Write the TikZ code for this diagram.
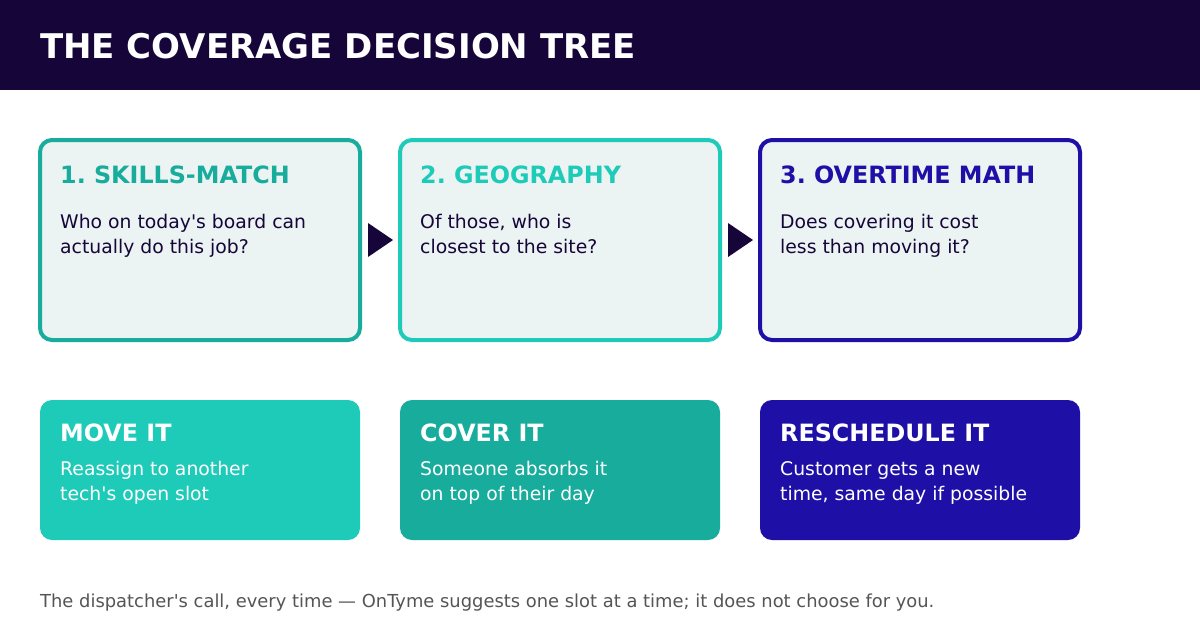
\documentclass[tikz,border=0pt]{standalone}
\usepackage{fontspec}
\setmainfont{DejaVu Sans}
\usetikzlibrary{calc}
\frenchspacing
\definecolor{hdr}{HTML}{160538}
\definecolor{tealdk}{HTML}{17AC9C}
\definecolor{teallt}{HTML}{1ECBB8}
\definecolor{indigo}{HTML}{1E0FA6}
\definecolor{cardfill}{HTML}{EBF3F3}
\definecolor{foot}{HTML}{555555}
\newcommand{\apos}{\textquotesingle}
\tikzset{
  card/.style={draw=#1, line width=4pt, fill=cardfill, rounded corners=12pt, minimum width=320pt, minimum height=200pt, inner sep=0pt},
  result/.style={fill=#1, rounded corners=12pt, minimum width=320pt, minimum height=140pt, inner sep=0pt},
  head/.style={anchor=base west, inner sep=0pt, font=\fontsize{23.8}{29}\selectfont\bfseries, text=#1},
  body/.style={anchor=base west, inner sep=0pt, align=left, font=\fontsize{18.8}{25}\selectfont, text=#1},
  tri/.style={fill=hdr}
}
\begin{document}
\begin{tikzpicture}[x=1pt,y=-1pt]
\useasboundingbox (0,0) rectangle (1200,630);
\fill[white] (0,0) rectangle (1200,630);
\fill[hdr] (0,0) rectangle (1200,90);
\node[anchor=base west, inner sep=0pt, text=white, font=\fontsize{34}{40}\selectfont\bfseries] (title) at (40,58) {THE COVERAGE DECISION TREE};

\node[card=tealdk] (c1) at (200,240) {};
\node[card=teallt] (c2) at (560,240) {};
\node[card=indigo] (c3) at (920,240) {};

\node[head=tealdk] (h1) at (60,183) {1. SKILLS-MATCH};
\node[head=teallt] (h2) at (420,183) {2. GEOGRAPHY};
\node[head=indigo] (h3) at (780,183) {3. OVERTIME MATH};

\node[body=hdr] (t1) at (60,253) {Who on today\apos s board can\\actually do this job?};
\node[body=hdr] (t2) at (420,253) {Of those, who is\\closest to the site?};
\node[body=hdr] (t3) at (780,253) {Does covering it cost\\less than moving it?};

\fill[tri] ($(c1.east)+(6,-17)$) -- ($(c1.east)+(6,17)$) -- ($(c2.west)+(-5,0)$) -- cycle;
\fill[tri] ($(c2.east)+(6,-17)$) -- ($(c2.east)+(6,17)$) -- ($(c3.west)+(-5,0)$) -- cycle;

\node[result=teallt] (r1) at (200,470) {};
\node[result=tealdk] (r2) at (560,470) {};
\node[result=indigo] (r3) at (920,470) {};

\node[head=white] (rh1) at (60,441) {MOVE IT};
\node[head=white] (rh2) at (420,441) {COVER IT};
\node[head=white] (rh3) at (780,441) {RESCHEDULE IT};

\node[body=white] (rt1) at (60,500) {Reassign to another\\tech\apos s open slot};
\node[body=white] (rt2) at (420,500) {Someone absorbs it\\on top of their day};
\node[body=white] (rt3) at (780,500) {Customer gets a new\\time, same day if possible};

\node[anchor=base west, inner sep=0pt, text=foot, font=\fontsize{17.9}{20}\selectfont] (ft) at (40,607) {The dispatcher\apos s call, every time — OnTyme suggests one slot at a time; it does not choose for you.};
\end{tikzpicture}
\end{document}
